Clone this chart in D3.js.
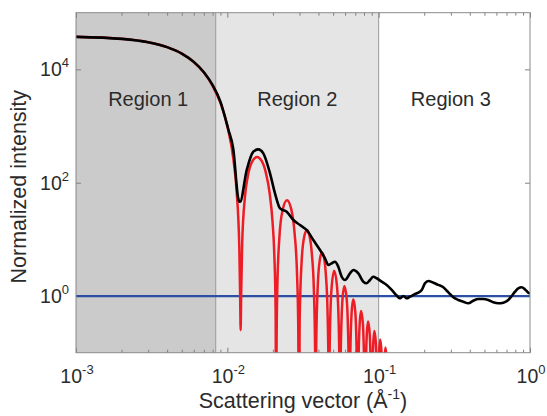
<!DOCTYPE html>
<html>
<head>
<meta charset="utf-8">
<script src="https://cdn.jsdelivr.net/npm/d3@7"></script>
<style>
  html, body { margin: 0; padding: 0; background: #ffffff; }
  svg { display: block; }
</style>
</head>
<body>
<svg id="chart" width="547" height="416"></svg>
<script>
// ---- axis settings ----
const qDomain = [1e-3, 1];
const intensityDomain = [0.1, 1e5];
const xTickValues = [1e-3, 1e-2, 1e-1, 1];
const xTickExponents = ["-3", "-2", "-1", "0"];
const yTickValues = [1, 100, 10000];
const yTickExponents = ["0", "2", "4"];

// ---- q-ranges of the three regions ----
const regionEdges = [0.001, 0.00838, 0.1, 1];
const regionNames = ["Region 1", "Region 2", "Region 3"];
const regionLabelQ = [0.003, 0.029, 0.3];
const regionFills = ["#cbcbcb", "#e5e5e5", "#ffffff"];

// ---- reference level ----
const baselineLevel = 1;

// ---- model scattering of a sphere: [q (1/Å), intensity] ----
const modelCurve = [
  [0.001, 37470], [0.002, 34540], [0.003, 30080], [0.004, 24670], [0.005, 18935],
  [0.006, 13490], [0.007, 8794], [0.008, 5126], [0.009, 2563], [0.010, 1007],
  [0.011, 243.5], [0.0115, 75.7], [0.012, 7.08], [0.012153, 0.97], [0.012243, 0.25],
  [0.012343, 1.05], [0.012534, 8.35], [0.013079, 56.8], [0.013624, 125.3], [0.014441, 222.2],
  [0.015703, 284], [0.016894, 239.2], [0.017984, 148.9], [0.019074, 62.9], [0.019891, 20.47],
  [0.020436, 5.38], [0.020845, 0.563], [0.021049, 0.001],
  [0.021144, 0.114], [0.02139, 1.39], [0.02207, 10.62], [0.02316, 32.15], [0.02478, 48.9],
  [0.02643, 34.17], [0.02779, 13.29], [0.02888, 2.42], [0.02943, 0.273], [0.029711, 0.001],
  [0.030056, 0.368], [0.031003, 4.26], [0.032296, 11.49], [0.033588, 14.64], [0.034881, 11.67],
  [0.036173, 5.58], [0.037293, 1.338], [0.038069, 0.081], [0.038327, 0.001],
  [0.038671, 0.134], [0.039617, 1.598], [0.040906, 4.46], [0.042196, 5.88], [0.043485, 4.83],
  [0.044775, 2.38], [0.045892, 0.584], [0.046666, 0.036], [0.046924, 0.001],
  [0.047267, 0.060], [0.048641, 1.18], [0.050786, 2.80], [0.052932, 1.59], [0.054477, 0.294],
  [0.05525, 0.018], [0.055507, 0.001],
  [0.056022, 0.068], [0.057651, 0.865], [0.059367, 1.50], [0.061511, 0.873], [0.063569, 0.041],
  [0.064084, 0.001],
  [0.064599, 0.0385], [0.066228, 0.496], [0.067943, 0.874], [0.070087, 0.518], [0.072145, 0.0248],
  [0.072659, 0.001],
  [0.073173, 0.0234], [0.074802, 0.305], [0.076517, 0.544], [0.07866, 0.327], [0.080718, 0.0158],
  [0.081232, 0.001],
  [0.081746, 0.015], [0.083374, 0.198], [0.085087, 0.356], [0.087229, 0.216], [0.089285, 0.0106],
  [0.089799, 0.001],
  [0.090313, 0.0101], [0.091941, 0.134], [0.093654, 0.242], [0.095795, 0.148], [0.097851, 0.0073],
  [0.098365, 0.001],
  [0.098879, 0.007], [0.10051, 0.0936], [0.10222, 0.171], [0.10436, 0.105], [0.10642, 0.0052],
  [0.10693, 0.001],
  [0.10907, 0.0675], [0.11079, 0.124], [0.11293, 0.077], [0.1155, 0.001]
];

// ---- measured scattering: [q (1/Å), intensity] ----
const measuredCurve = [
  [0.001, 37470], [0.002, 34540], [0.003, 30080], [0.004, 24670], [0.005, 18950],
  [0.006, 13550], [0.007, 8900], [0.008, 5250], [0.009, 2700], [0.01015, 870],
  [0.01095, 390], [0.01182, 52], [0.01213, 46], [0.01343, 167.5], [0.01484, 352],
  [0.01602, 388], [0.01729, 330], [0.01914, 146.5], [0.02065, 65], [0.02229, 35.3],
  [0.02468, 30.8], [0.02729, 21.96], [0.03021, 17.9], [0.03346, 14.63], [0.03699, 9.74],
  [0.04096, 6.49], [0.04419, 4.63], [0.04648, 3.53], [0.04895, 3.78], [0.05146, 4.03],
  [0.05411, 3.29], [0.057, 2.19], [0.05991, 1.92], [0.06464, 2.52], [0.06798, 2.88],
  [0.07336, 2.52], [0.07914, 1.79], [0.08337, 1.68], [0.08766, 1.92], [0.09218, 2.19],
  [0.09707, 2.06], [0.1047, 1.79], [0.113, 1.57], [0.122, 1.28], [0.1316, 1.02],
  [0.1384, 0.912], [0.1455, 1.0], [0.1532, 0.912], [0.1611, 0.973], [0.1739, 1.086],
  [0.1828, 1.145], [0.1925, 1.28], [0.2024, 1.68], [0.2128, 1.84], [0.2297, 1.72],
  [0.2478, 1.57], [0.2675, 1.43], [0.2817, 1.24], [0.2961, 1.086], [0.3113, 0.95],
  [0.336, 0.851], [0.3625, 0.794], [0.3912, 0.744], [0.422, 0.827], [0.4554, 0.886],
  [0.4914, 0.886], [0.5302, 0.851], [0.5721, 0.775], [0.6173, 0.744], [0.6661, 0.763],
  [0.7187, 0.851], [0.7569, 1.0], [0.796, 1.192], [0.8369, 1.369], [0.8815, 1.43],
  [0.9268, 1.31], [0.9745, 1.145], [1.0, 1.1]
];

// ---- layout ----
const W = 547, H = 416;
const M = { top: 12.7, right: 17, bottom: 63.3, left: 76 };
const FONT = "'Liberation Sans', Arial, Helvetica, sans-serif";
const TEXT = "#2b2b2b";

const svg = d3.select("#chart");

const x = d3.scaleLog().domain(qDomain).range([M.left, W - M.right]);
const y = d3.scaleLog().domain(intensityDomain).range([H - M.bottom, M.top]);

const plotW = W - M.left - M.right;
const plotH = H - M.top - M.bottom;

svg.append("defs").append("clipPath").attr("id", "plot-clip")
  .append("rect")
  .attr("x", M.left).attr("y", M.top)
  .attr("width", plotW).attr("height", plotH);

// shaded regions
const regions = regionNames.map((name, i) => ({
  name, q0: regionEdges[i], q1: regionEdges[i + 1], fill: regionFills[i], labelQ: regionLabelQ[i]
}));

svg.append("g").selectAll("rect")
  .data(regions)
  .join("rect")
  .attr("x", d => x(d.q0))
  .attr("y", M.top)
  .attr("width", d => x(d.q1) - x(d.q0))
  .attr("height", plotH)
  .attr("fill", d => d.fill);

// region borders
svg.append("g").selectAll("line")
  .data(regionEdges.slice(1, -1))
  .join("line")
  .attr("x1", d => x(d)).attr("x2", d => x(d))
  .attr("y1", M.top).attr("y2", H - M.bottom)
  .attr("stroke", "#9a9a9a").attr("stroke-width", 1);

// region labels
svg.append("g").selectAll("text")
  .data(regions)
  .join("text")
  .attr("x", d => x(d.labelQ))
  .attr("y", 106)
  .attr("text-anchor", "middle")
  .attr("font-family", FONT)
  .attr("font-size", 20)
  .attr("fill", TEXT)
  .text(d => d.name);

// ticks (inward, on all four sides)
const minorTicks = [];
for (let e = -3; e < 0; e++) {
  for (let k = 2; k <= 9; k++) minorTicks.push(k * Math.pow(10, e));
}
const tickColor = "#808080";
function styleAxis(g) {
  g.select(".domain").remove();
  g.selectAll(".tick line").attr("stroke", tickColor).attr("stroke-width", 1);
  g.selectAll(".tick text").remove();
}
svg.append("g").attr("transform", `translate(0,${H - M.bottom})`)
  .call(d3.axisBottom(x).tickValues(xTickValues).tickSize(-5).tickFormat(""))
  .call(styleAxis);
svg.append("g").attr("transform", `translate(0,${H - M.bottom})`)
  .call(d3.axisBottom(x).tickValues(minorTicks).tickSize(-3).tickFormat(""))
  .call(styleAxis);
svg.append("g").attr("transform", `translate(0,${M.top})`)
  .call(d3.axisTop(x).tickValues(xTickValues).tickSize(-5).tickFormat(""))
  .call(styleAxis);
svg.append("g").attr("transform", `translate(0,${M.top})`)
  .call(d3.axisTop(x).tickValues(minorTicks).tickSize(-3).tickFormat(""))
  .call(styleAxis);
svg.append("g").attr("transform", `translate(${M.left},0)`)
  .call(d3.axisLeft(y).tickValues(yTickValues).tickSize(-5).tickFormat(""))
  .call(styleAxis);
svg.append("g").attr("transform", `translate(${W - M.right},0)`)
  .call(d3.axisRight(y).tickValues(yTickValues).tickSize(-5).tickFormat(""))
  .call(styleAxis);

// curves
const line = d3.line()
  .x(d => x(d[0]))
  .y(d => y(d[1]))
  .curve(d3.curveMonotoneX);

const curves = svg.append("g").attr("clip-path", "url(#plot-clip)");

curves.append("line")
  .attr("x1", x(qDomain[0])).attr("x2", x(qDomain[1]))
  .attr("y1", y(baselineLevel)).attr("y2", y(baselineLevel))
  .attr("stroke", "#2c4fa3").attr("stroke-width", 2.2);

curves.append("path")
  .datum(modelCurve)
  .attr("d", line)
  .attr("fill", "none")
  .attr("stroke", "#ee1c25")
  .attr("stroke-width", 2.5)
  .attr("stroke-linejoin", "round");

curves.append("path")
  .datum(measuredCurve)
  .attr("d", line)
  .attr("fill", "none")
  .attr("stroke", "#000000")
  .attr("stroke-width", 2.6)
  .attr("stroke-linejoin", "round");

// frame
svg.append("rect")
  .attr("x", M.left).attr("y", M.top)
  .attr("width", plotW).attr("height", plotH)
  .attr("fill", "none").attr("stroke", "#8a8a8a").attr("stroke-width", 1);

// x tick labels: 10 with superscript exponent
const xLabels = svg.append("g").selectAll("text")
  .data(xTickValues.map((v, i) => ({ v, e: xTickExponents[i] })))
  .join("text")
  .attr("x", d => x(d.v) + 1)
  .attr("y", H - M.bottom + 30)
  .attr("text-anchor", "middle")
  .attr("font-family", FONT)
  .attr("fill", TEXT);
xLabels.append("tspan").attr("font-size", 19.5).text("10");
xLabels.append("tspan").attr("font-size", 13).attr("dy", -9).text(d => d.e);

// y tick labels
const yLabels = svg.append("g").selectAll("text")
  .data(yTickValues.map((v, i) => ({ v, e: yTickExponents[i] })))
  .join("text")
  .attr("x", M.left - 7)
  .attr("y", d => y(d.v) + 7)
  .attr("text-anchor", "end")
  .attr("font-family", FONT)
  .attr("fill", TEXT);
yLabels.append("tspan").attr("font-size", 19.5).text("10");
yLabels.append("tspan").attr("font-size", 13).attr("dy", -9).text(d => d.e);

// axis titles
const xTitle = svg.append("text")
  .attr("x", M.left + plotW / 2)
  .attr("y", 408)
  .attr("text-anchor", "middle")
  .attr("font-family", FONT)
  .attr("font-size", 21.5)
  .attr("fill", TEXT);
xTitle.append("tspan").text("Scattering vector (Å");
xTitle.append("tspan").attr("font-size", 14).attr("dy", -9).text("-1");
xTitle.append("tspan").attr("dy", 9).text(")");

svg.append("text")
  .attr("transform", `translate(26,${M.top + plotH / 2 + 4}) rotate(-90)`)
  .attr("text-anchor", "middle")
  .attr("font-family", FONT)
  .attr("font-size", 21.5)
  .attr("fill", TEXT)
  .text("Normalized intensity");
</script>
</body>
</html>
